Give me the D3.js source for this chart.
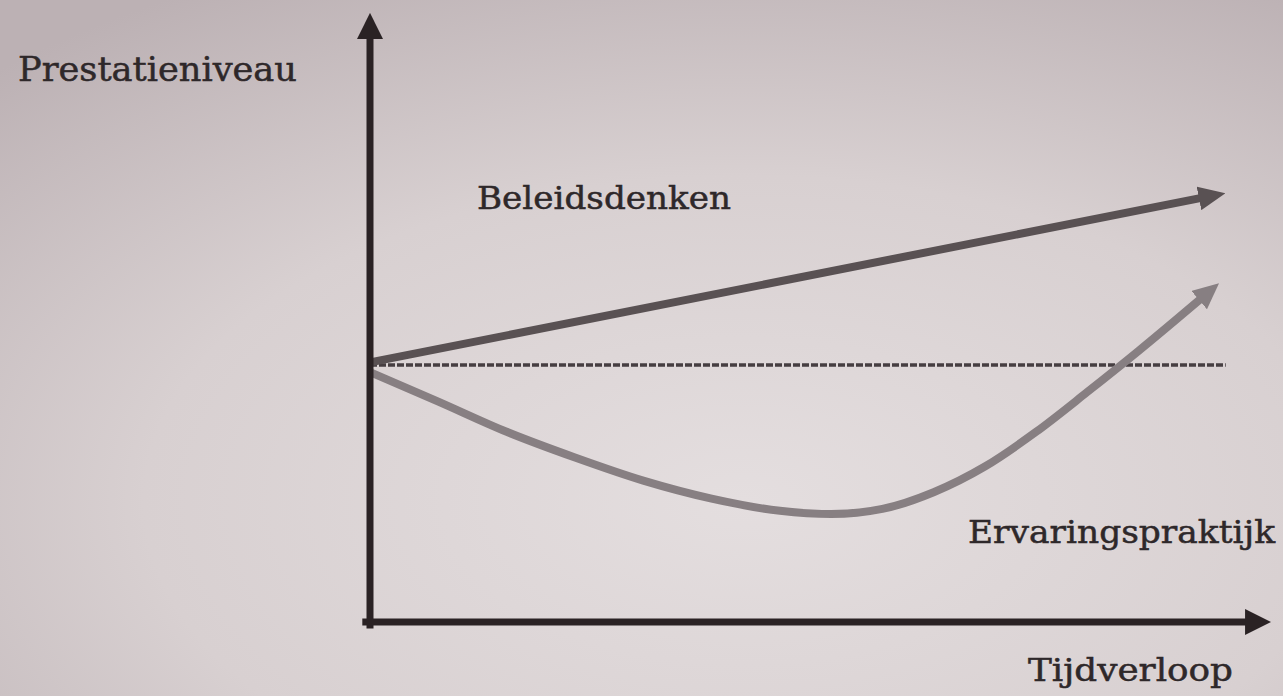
<!DOCTYPE html>
<html>
<head>
<meta charset="utf-8">
<script src="https://cdn.jsdelivr.net/npm/d3@7"></script>
<style>
  html, body { margin: 0; padding: 0; overflow: hidden; }
  body { width: 1283px; height: 696px; }
  text { font-family: "DejaVu Serif", "Liberation Serif", serif; fill: #2e282a; stroke: #2e282a; stroke-width: 0.5; }
</style>
</head>
<body>
<div id="chart"></div>
<script>
// data: time (0-100) against performance level (0-100)
let baselineLevel = [[0, 40], [100.2, 40]];
let beleidsdenken = [[0, 40.4], [98.1, 66.2]];
let ervaringspraktijk = [
  [0, 38.9], [8, 34.3], [16, 29.6], [24, 25.6], [32, 22.0],
  [40, 19.2], [48, 17.3], [54, 16.8], [60, 17.6], [66, 20.2],
  [72, 24.2], [78, 29.6], [84, 35.8], [90, 42.2], [97.9, 51.0]
];
let yAxisPoints = [[0, -1], [0, 92]];
let xAxisPoints = [[-0.9, 0], [103.4, 0]];

let labels = ["Prestatieniveau", "Beleidsdenken", "Ervaringspraktijk", "Tijdverloop"];

let width = 1283, height = 696;

let xScale = d3.scaleLinear().domain([0, 100]).range([370, 1224]);
let yScale = d3.scaleLinear().domain([0, 100]).range([622, -20.5]);

let svg = d3.select("#chart").append("svg")
  .attr("width", width)
  .attr("height", height);

let defs = svg.append("defs");

// paper background, a bit darker towards the edges
let grad = defs.append("radialGradient")
  .attr("id", "paper")
  .attr("cx", "58%").attr("cy", "72%").attr("r", "85%");
grad.append("stop").attr("offset", "0%").attr("stop-color", "#e4dedf");
grad.append("stop").attr("offset", "55%").attr("stop-color", "#d8d0d1");
grad.append("stop").attr("offset", "100%").attr("stop-color", "#bcb1b4");

svg.append("rect")
  .attr("width", width)
  .attr("height", height)
  .attr("fill", "url(#paper)");

function arrowMarker(id, color, len, half, ref) {
  defs.append("marker")
    .attr("id", id)
    .attr("markerUnits", "userSpaceOnUse")
    .attr("viewBox", [0, -half, len, half * 2].join(" "))
    .attr("markerWidth", len)
    .attr("markerHeight", half * 2)
    .attr("refX", ref)
    .attr("refY", 0)
    .attr("orient", "auto")
    .append("path")
    .attr("d", "M0," + (-half) + "L" + len + ",0L0," + half + "Z")
    .attr("fill", color);
}

arrowMarker("axisArrow", "#2a2224", 26, 13, 8);
arrowMarker("lineArrow", "#595153", 27, 12, 9);
arrowMarker("curveArrow", "#877f82", 26, 12, 9);

let line = d3.line()
  .x(function(d) { return xScale(d[0]); })
  .y(function(d) { return yScale(d[1]); });

let curve = d3.line()
  .x(function(d) { return xScale(d[0]); })
  .y(function(d) { return yScale(d[1]); })
  .curve(d3.curveMonotoneX);

// dashed reference level
svg.append("path")
  .attr("d", line(baselineLevel))
  .attr("fill", "none")
  .attr("stroke", "#463e41")
  .attr("stroke-width", 3.5)
  .attr("stroke-dasharray", "7,2");

svg.append("path")
  .attr("d", line(beleidsdenken))
  .attr("fill", "none")
  .attr("stroke", "#595153")
  .attr("stroke-width", 8)
  .attr("marker-end", "url(#lineArrow)");

svg.append("path")
  .attr("d", curve(ervaringspraktijk))
  .attr("fill", "none")
  .attr("stroke", "#877f82")
  .attr("stroke-width", 8)
  .attr("marker-end", "url(#curveArrow)");

// axes
svg.append("path")
  .attr("d", line(yAxisPoints))
  .attr("fill", "none")
  .attr("stroke", "#2a2224")
  .attr("stroke-width", 7)
  .attr("marker-end", "url(#axisArrow)");

svg.append("path")
  .attr("d", line(xAxisPoints))
  .attr("fill", "none")
  .attr("stroke", "#2a2224")
  .attr("stroke-width", 7)
  .attr("marker-end", "url(#axisArrow)");

// labels
svg.append("text")
  .attr("x", 18).attr("y", 81)
  .attr("font-size", 33)
  .attr("textLength", 279)
  .attr("lengthAdjust", "spacingAndGlyphs")
  .text(labels[0]);

svg.append("text")
  .attr("x", 477).attr("y", 209)
  .attr("font-size", 32)
  .attr("textLength", 254)
  .attr("lengthAdjust", "spacingAndGlyphs")
  .text(labels[1]);

svg.append("text")
  .attr("x", 968).attr("y", 543)
  .attr("font-size", 32)
  .attr("textLength", 307)
  .attr("lengthAdjust", "spacingAndGlyphs")
  .text(labels[2]);

svg.append("text")
  .attr("x", 1028).attr("y", 681)
  .attr("font-size", 32)
  .attr("textLength", 205)
  .attr("lengthAdjust", "spacingAndGlyphs")
  .text(labels[3]);
</script>
</body>
</html>
